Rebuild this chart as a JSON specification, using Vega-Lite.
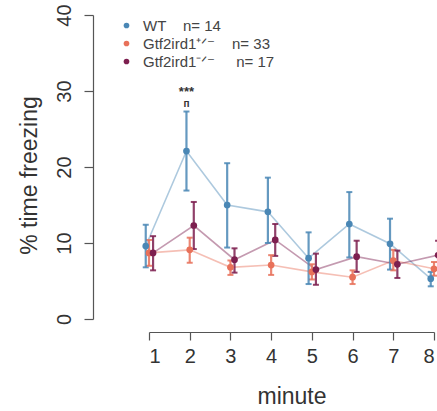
{
  "$schema": "https://vega.github.io/schema/vega-lite/v6.json",
  "autosize": {"type": "none"},
  "padding": {"left": 149, "top": 15, "right": 3, "bottom": 92},
  "width": 285,
  "height": 304,
  "config": {
    "font": "Liberation Sans",
    "view": {"stroke": null},
    "axis": {"grid": false, "domainColor": "#555", "tickColor": "#555", "domainWidth": 1.2, "tickWidth": 1.2, "labelColor": "#333", "titleColor": "#333", "labelFont": "Liberation Sans", "titleFont": "Liberation Sans", "titleFontWeight": "normal"}
  },
  "datasets": {
    "freeze": [
      {"group": "WT", "minute": 1, "mean": 9.6, "lo": 6.8, "hi": 12.4},
      {"group": "WT", "minute": 2, "mean": 22.1, "lo": 16.9, "hi": 27.3},
      {"group": "WT", "minute": 3, "mean": 15.0, "lo": 9.4, "hi": 20.5},
      {"group": "WT", "minute": 4, "mean": 14.1, "lo": 10.0, "hi": 18.6},
      {"group": "WT", "minute": 5, "mean": 8.0, "lo": 4.6, "hi": 11.4},
      {"group": "WT", "minute": 6, "mean": 12.5, "lo": 8.1, "hi": 16.7},
      {"group": "WT", "minute": 7, "mean": 9.9, "lo": 6.5, "hi": 13.2},
      {"group": "WT", "minute": 8, "mean": 5.3, "lo": 4.3, "hi": 6.2},
      {"group": "Het", "minute": 1, "mean": 8.7, "lo": 7.0, "hi": 10.4},
      {"group": "Het", "minute": 2, "mean": 9.1, "lo": 7.4, "hi": 10.7},
      {"group": "Het", "minute": 3, "mean": 6.8, "lo": 5.8, "hi": 7.7},
      {"group": "Het", "minute": 4, "mean": 7.1, "lo": 5.8, "hi": 8.4},
      {"group": "Het", "minute": 5, "mean": 6.2, "lo": 5.2, "hi": 7.2},
      {"group": "Het", "minute": 6, "mean": 5.5, "lo": 4.6, "hi": 6.4},
      {"group": "Het", "minute": 7, "mean": 7.7, "lo": 6.4, "hi": 9.1},
      {"group": "Het", "minute": 8, "mean": 6.6, "lo": 5.7, "hi": 7.5},
      {"group": "KO", "minute": 1, "mean": 8.7, "lo": 6.4, "hi": 10.9},
      {"group": "KO", "minute": 2, "mean": 12.3, "lo": 9.2, "hi": 15.4},
      {"group": "KO", "minute": 3, "mean": 7.8, "lo": 6.1, "hi": 9.3},
      {"group": "KO", "minute": 4, "mean": 10.4, "lo": 8.3, "hi": 12.5},
      {"group": "KO", "minute": 5, "mean": 6.5, "lo": 4.5, "hi": 8.6},
      {"group": "KO", "minute": 6, "mean": 8.2, "lo": 6.2, "hi": 10.3},
      {"group": "KO", "minute": 7, "mean": 7.2, "lo": 5.4, "hi": 9.0},
      {"group": "KO", "minute": 8, "mean": 8.4, "lo": 6.5, "hi": 10.3}
    ],
    "notes": [
      {"minute": 1.92, "y": 29.9, "text": "***", "size": 13},
      {"minute": 1.92, "y": 28.3, "text": "п", "size": 10}
    ]
  },
  "layer": [
    {
      "data": {"name": "freeze"},
      "transform": [{"calculate": "datum.minute + (datum.group == 'WT' ? -0.08 : datum.group == 'KO' ? 0.1 : 0)", "as": "xpos"}],
      "encoding": {
        "x": {"field": "xpos", "type": "quantitative", "scale": {"domain": [1, 8], "nice": false, "zero": false},
          "axis": {"values": [1, 2, 3, 4, 5, 6, 7, 8], "title": "minute", "offset": 13, "tickSize": 8, "labelFontSize": 20, "titleFontSize": 23, "labelPadding": 6, "titlePadding": 19, "format": "d"}},
        "color": {"field": "group", "type": "nominal",
          "scale": {"domain": ["WT", "Het", "KO"], "range": ["#4A87B5", "#E8715A", "#7D1F4F"]},
          "legend": {"orient": "none", "legendX": -30, "legendY": 3, "title": null, "symbolType": "circle", "symbolSize": 32, "symbolStrokeWidth": 0, "symbolOpacity": 1, "symbolFillOpacity": 1, "labelFontSize": 15, "labelColor": "#444", "labelOffset": 9, "rowPadding": 2, "padding": 0,
            "labelExpr": "datum.label == 'WT' ? 'WT\u00a0\u00a0\u00a0\u00a0n=\u00a014' : datum.label == 'Het' ? 'Gtf2ird1\u207a\u141f\u207b\u00a0\u00a0\u00a0\u00a0n=\u00a033' : 'Gtf2ird1\u207b\u141f\u207b\u00a0\u00a0\u00a0\u00a0\u00a0n=\u00a017'"}}
      },
      "layer": [
        {"mark": {"type": "line", "strokeWidth": 1.6, "opacity": 0.45},
          "encoding": {"y": {"field": "mean", "type": "quantitative", "title": "% time freezing", "scale": {"domain": [0, 40], "nice": false},
            "axis": {"values": [0, 10, 20, 30, 40], "title": "% time freezing", "offset": 56, "tickSize": 9, "labelFontSize": 20, "titleFontSize": 23, "labelAngle": -90, "labelAlign": "center", "labelBaseline": "alphabetic", "labelPadding": 14, "titlePadding": 13, "titleY": 160}}}},
        {"mark": {"type": "errorbar", "ticks": {"size": 6, "thickness": 2, "opacity": 0.85}, "thickness": 2.2, "opacity": 0.85},
          "encoding": {"y": {"field": "lo", "type": "quantitative", "title": "% time freezing"}, "y2": {"field": "hi"}}},
        {"mark": {"type": "point", "filled": true, "size": 45, "opacity": 1},
          "encoding": {"y": {"field": "mean", "type": "quantitative", "title": "% time freezing"}}}
      ]
    },
    {
      "data": {"name": "notes"},
      "mark": {"type": "text", "color": "#333", "fontWeight": "bold"},
      "encoding": {
        "x": {"field": "minute", "type": "quantitative"},
        "y": {"field": "y", "type": "quantitative"},
        "text": {"field": "text"},
        "size": {"field": "size", "type": "quantitative", "scale": null}
      }
    }
  ]
}
